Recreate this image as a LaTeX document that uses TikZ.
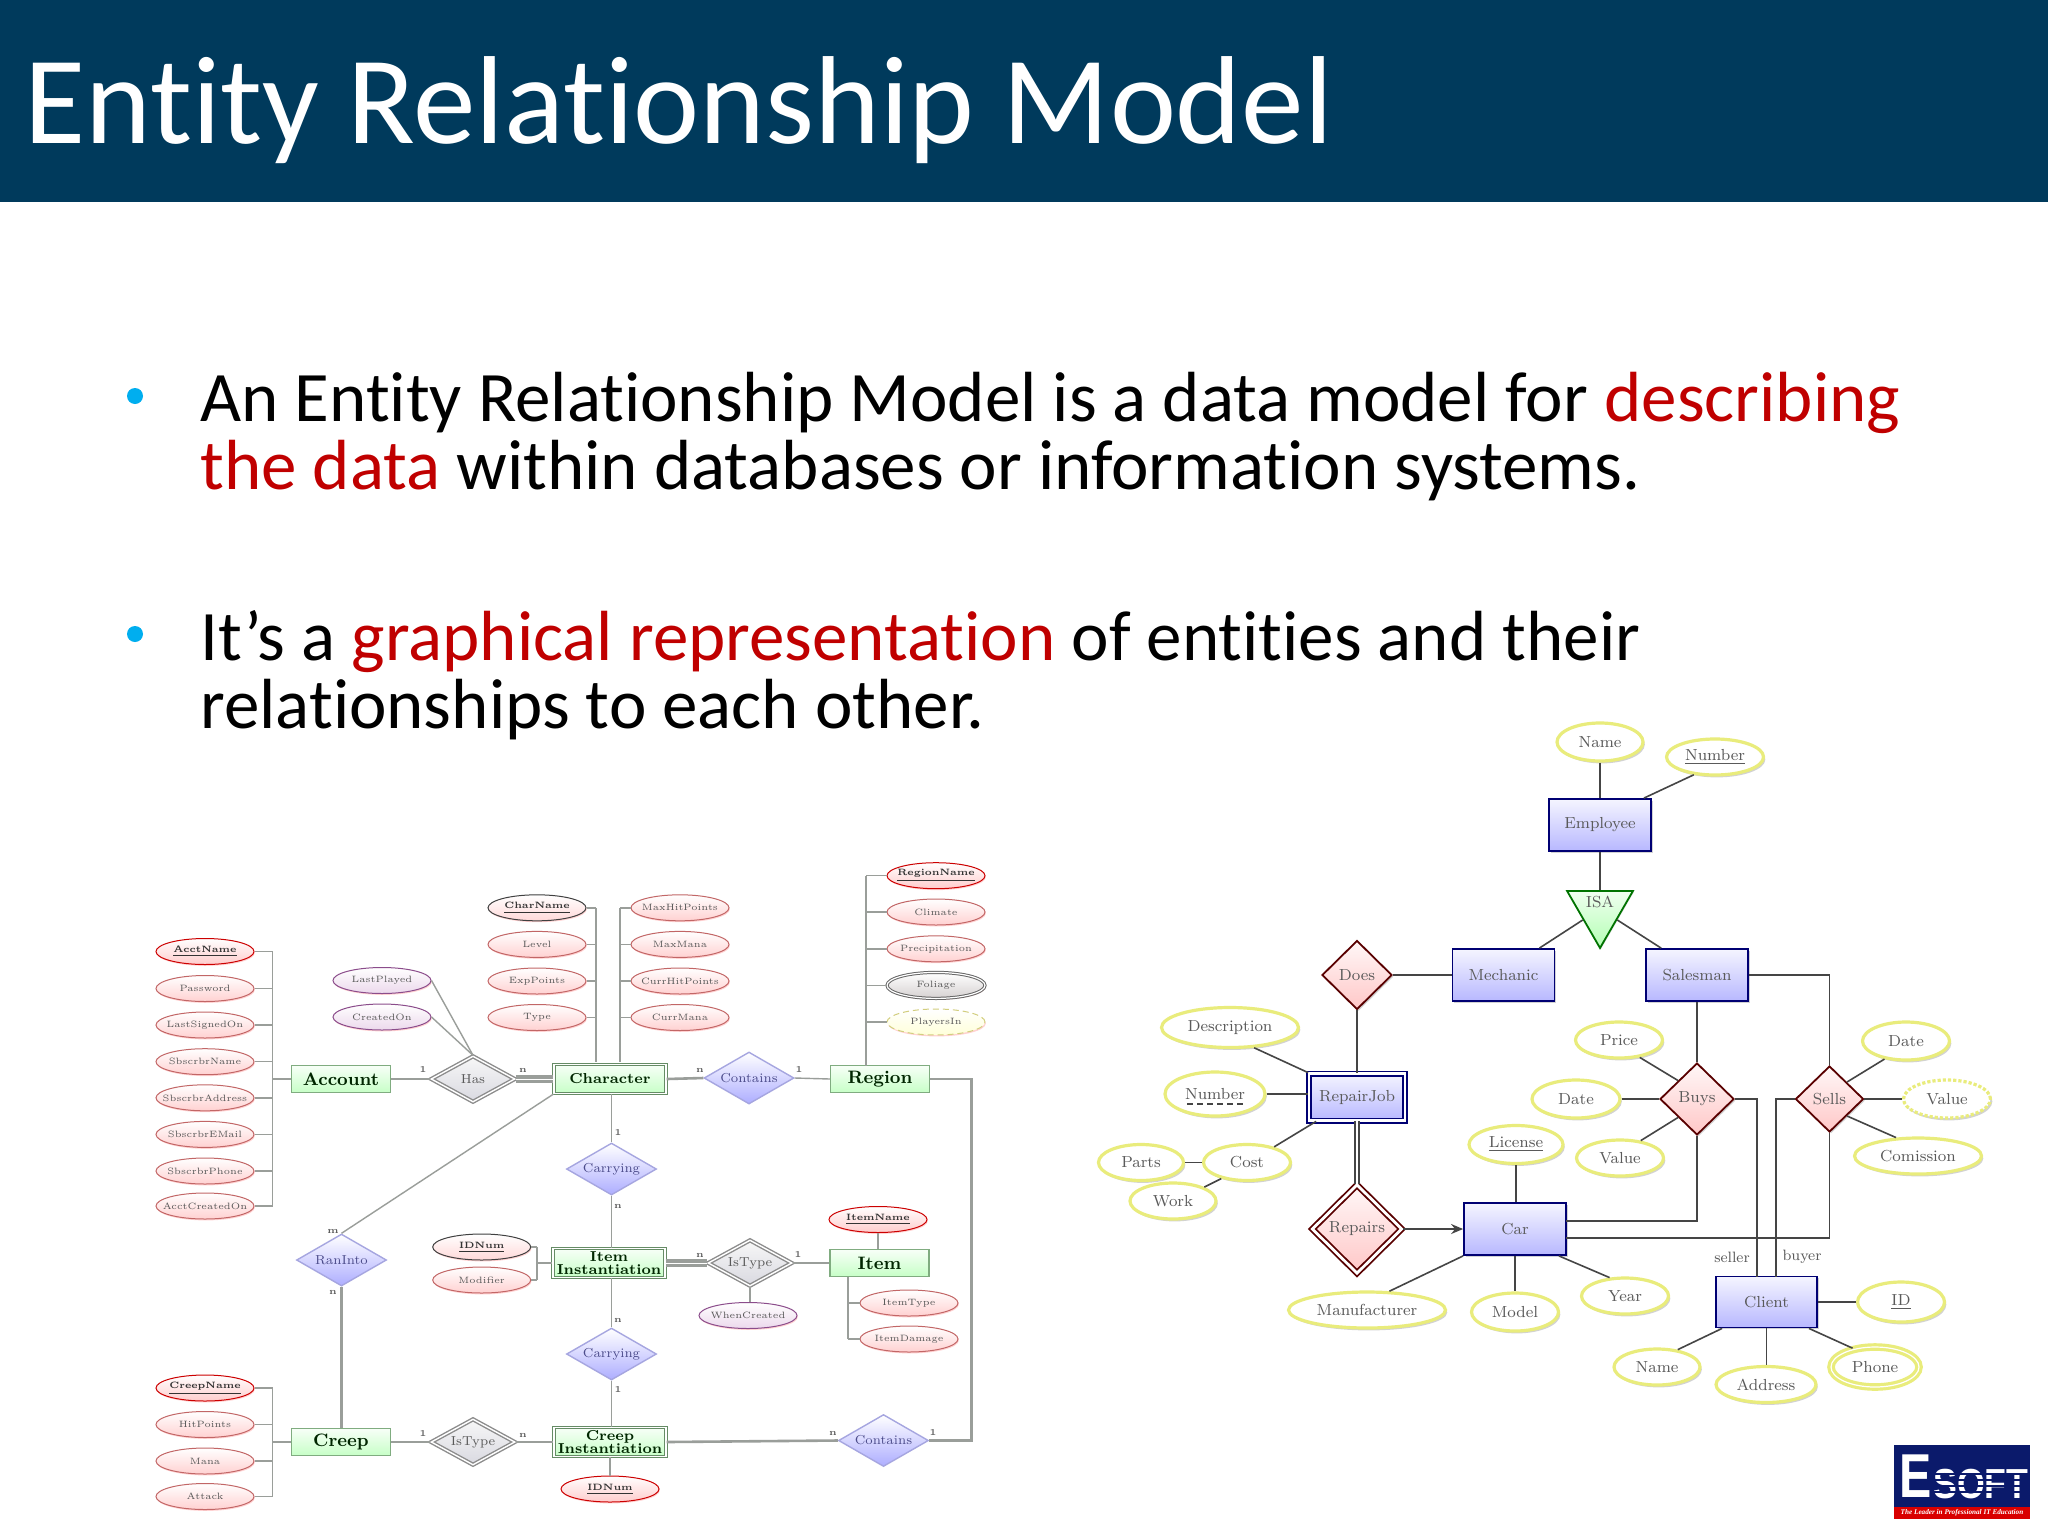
\documentclass[tikz,border=0pt]{standalone}
\usepackage{fontspec}
\usetikzlibrary{shapes.geometric,shadows,arrows.meta,calc}
\newfontfamily\slidefont[Ligatures=CommonOff]{Carlito}
\newfontfamily\logofont{Liberation Sans}
\newfontfamily\logoserif{Liberation Serif}
\newcommand\zt[1]{\makebox[0pt]{#1}}
\definecolor{headbg}{HTML}{003A5C}
\definecolor{hot}{HTML}{C00000}
\definecolor{bul}{HTML}{00AEEF}
\definecolor{lline}{HTML}{9A9E9A}
\definecolor{rline}{HTML}{454545}
\definecolor{rtext}{HTML}{5A5A5A}
\definecolor{yedge}{HTML}{E9EC7C}
\definecolor{lnavy}{HTML}{0B1A6B}
\tikzset{
  sz/.style 2 args={minimum width=#1*0.5pt,minimum height=#2*0.5pt,inner sep=0pt},
  titletext/.style={font=\slidefont\fontsize{62.6}{62.6}\selectfont,text=white,anchor=base west,inner sep=0pt},
  bodytext/.style={font=\slidefont\fontsize{35.5}{34}\selectfont,text=black,anchor=base west,inner sep=0pt},
  bulletdot/.style={circle,fill=bul,minimum size=8pt,inner sep=0pt},
  lconn/.style={draw=lline,line width=0.7pt},
  lthick/.style={draw=lline,line width=1.3pt},
  ldouble/.style={draw=lline,line width=1.6pt,double=white,double distance=0.5pt},
  rconn/.style={draw=rline,line width=0.8pt},
  lattr/.style={ellipse,sz={98}{26},draw=#1,line width=0.5pt,top color=white,
     font=\fontsize{4.6}{5}\selectfont,text=black!65,
     drop shadow={shadow xshift=0.4pt,shadow yshift=-0.7pt,fill=red!45,opacity=.4}},
  lattr/.default={black!45!red!55},
  pattr/.style={lattr=black!40!red!60,bottom color=red!18},
  kattr/.style={lattr=red!80!black,bottom color=red!20,font=\bfseries\fontsize{4.6}{5}\selectfont,text=black!80},
  dattr/.style={lattr=black!75,bottom color=red!15,font=\bfseries\fontsize{4.6}{5}\selectfont,text=black!80},
  vattr/.style={lattr=violet!70!black!70,bottom color=violet!15},
  mattr/.style={lattr=black!60,bottom color=red!10!black!18,double=white,double distance=0.6pt},
  yattr/.style={lattr=olive!40,bottom color=yellow!15,densely dashed},
  lent/.style={rectangle,sz={99}{27},draw=green!35!black!50,line width=0.6pt,top color=green!3,bottom color=green!22,
     font=\bfseries\fontsize{9}{9}\selectfont,text=green!15!black},
  lweak/.style={rectangle,sz={112}{29},draw=green!25!black!60,line width=0.6pt,double=white,double distance=0.7pt,
     top color=green!3,bottom color=green!22,align=center,
     font=\bfseries\fontsize{7.2}{6.6}\selectfont,text=green!15!black},
  lrel/.style={diamond,aspect=1.7,sz={90}{52},draw=black!35!blue!35,line width=0.7pt,top color=white,bottom color=blue!32,
     font=\fontsize{6.5}{7}\selectfont,text=blue!35!black!70},
  lwrel/.style={lrel,sz={84}{46},draw=black!45,double=white,double distance=0.7pt,top color=black!3,bottom color=blue!20!black!15,text=black!65},
  lcard/.style={font=\bfseries\fontsize{4.5}{5}\selectfont,text=black!65,inner sep=0pt},
  rent/.style={rectangle,sz={102}{52},draw=blue!45!black,line width=0.9pt,top color=blue!4,bottom color=blue!28,
     font=\fontsize{8}{9}\selectfont,text=rtext,
     drop shadow={shadow xshift=0.8pt,shadow yshift=-0.8pt,opacity=.35}},
  rrel/.style={diamond,aspect=1,draw=red!35!black,line width=0.9pt,top color=red!3,bottom color=red!22,
     font=\fontsize{8}{9}\selectfont,text=rtext,
     drop shadow={shadow xshift=0.8pt,shadow yshift=-0.8pt,opacity=.35}},
  rattr/.style={ellipse,draw=yedge,line width=1.6pt,fill=white,
     font=\fontsize{8}{9}\selectfont,text=rtext,
     drop shadow={shadow xshift=0.9pt,shadow yshift=-1.2pt,opacity=.35}},
  rnote/.style={font=\fontsize{7.5}{8}\selectfont,text=rtext,inner sep=0pt},
}
\begin{document}
\begin{tikzpicture}[x=0.5pt,y=-0.5pt]
\useasboundingbox (0,0) rectangle (2048,1536);
\fill[white] (0,0) rectangle (2048,1536);
\fill[headbg] (0,0) rectangle (2048,202);
\node[titletext] (title) at (24,143) {Entity Relationship Model};
\node[bulletdot] (b1) at (135,396) {};
\node[bulletdot] (b2) at (135,634) {};
\node[bodytext] (l1) at (200,421) {An Entity Relationship Model is a data model for \textcolor{hot}{describing}};
\node[bodytext] (l2) at (200,489) {\textcolor{hot}{the data} within databases or information systems.};
\node[bodytext] (l3) at (200,660) {It’s a \textcolor{hot}{graphical representation} of entities and their};
\node[bodytext] (l4) at (200,728) {relationships to each other.};

% ---------- left diagram: nodes
\node[kattr] (a1) at (205,951.5) {\zt{\underline{AcctName}}};
\node[pattr] (a2) at (205,988.5) {\zt{Password}};
\node[pattr] (a3) at (205,1025) {\zt{LastSignedOn}};
\node[pattr] (a4) at (205,1061.7) {\zt{SbscrbrName}};
\node[pattr] (a5) at (205,1097.8) {\zt{SbscrbrAddress}};
\node[pattr] (a6) at (205,1134.4) {\zt{SbscrbrEMail}};
\node[pattr] (a7) at (205,1171) {\zt{SbscrbrPhone}};
\node[pattr] (a8) at (205,1206) {\zt{AcctCreatedOn}};
\node[lent] (acct) at (341,1079) {Account};
\node[lwrel] (has) at (473,1079) {\zt{Has}};
\node[vattr] (lp) at (382,980.5) {\zt{LastPlayed}};
\node[vattr] (co) at (382,1017) {\zt{CreatedOn}};
\node[dattr] (c1) at (537,907.8) {\zt{\underline{CharName}}};
\node[pattr] (c2) at (537,944.4) {\zt{Level}};
\node[pattr] (c3) at (537,981) {\zt{ExpPoints}};
\node[pattr] (c4) at (537,1017.5) {\zt{Type}};
\node[pattr] (c5) at (680,907.8) {\zt{MaxHitPoints}};
\node[pattr] (c6) at (680,944.4) {\zt{MaxMana}};
\node[pattr] (c7) at (680,981) {\zt{CurrHitPoints}};
\node[pattr] (c8) at (680,1017.5) {\zt{CurrMana}};
\node[lweak] (char) at (610,1079) {Character};
\node[lrel] (cont) at (749,1078) {\zt{Contains}};
\node[lent] (reg) at (880,1079) {Region};
\node[kattr] (r1) at (936,875.7) {\zt{\underline{RegionName}}};
\node[pattr] (r2) at (936,912) {\zt{Climate}};
\node[pattr] (r3) at (936,948.8) {\zt{Precipitation}};
\node[mattr] (r4) at (936,985.4) {\zt{Foliage}};
\node[yattr] (r5) at (936,1022) {\zt{PlayersIn}};
\node[lrel] (car1) at (611.5,1169) {\zt{Carrying}};
\node[lweak] (iinst) at (609,1263) {Item\\Instantiation};
\node[lwrel] (ist) at (750,1263) {\zt{IsType}};
\node[lent] (item) at (879.5,1263) {Item};
\node[kattr] (i1) at (878,1219.5) {\zt{\underline{ItemName}}};
\node[pattr] (i2) at (909,1303) {\zt{ItemType}};
\node[pattr] (i3) at (909,1339) {\zt{ItemDamage}};
\node[vattr] (wc) at (748,1315.5) {\zt{WhenCreated}};
\node[dattr] (n1) at (481.7,1247) {\zt{\underline{IDNum}}};
\node[pattr] (n2) at (481.7,1280) {\zt{Modifier}};
\node[lrel] (car2) at (611.5,1354) {\zt{Carrying}};
\node[lweak] (cinst) at (610,1442) {Creep\\Instantiation};
\node[kattr] (n3) at (610,1489) {\zt{\underline{IDNum}}};
\node[lrel] (ctn) at (883.5,1440.5) {\zt{Contains}};
\node[lrel] (ran) at (341.5,1260) {\zt{RanInto}};
\node[lent] (creep) at (341,1442) {Creep};
\node[lwrel] (ist2) at (473,1442) {\zt{IsType}};
\node[kattr] (k1) at (205,1388) {\zt{\underline{CreepName}}};
\node[pattr] (k2) at (205,1424.5) {\zt{HitPoints}};
\node[pattr] (k3) at (205,1461) {\zt{Mana}};
\node[pattr] (k4) at (205,1496.5) {\zt{Attack}};

% bracket guides
\coordinate (bA) at (272.7,1079);
\coordinate (bC) at (272.7,1442);
\coordinate (bL) at (596,1062);
\coordinate (bR) at (620,1062);
\coordinate (bG) at (866,1066);
\coordinate (bI) at (848,1277);
\coordinate (bN) at (537,1263);
\coordinate (cwide) at (971.7,1079);

% ---------- left diagram: connectors
\foreach \n in {a1,a2,a3,a4,a5,a6,a7,a8} \draw[lconn] (\n.east) -- (\n.east -| bA);
\draw[lconn] (a1.east -| bA) -- (a8.east -| bA);
\draw[lconn] (bA) -- (acct.west);
\foreach \n in {k1,k2,k3,k4} \draw[lconn] (\n.east) -- (\n.east -| bC);
\draw[lconn] (k1.east -| bC) -- (k4.east -| bC);
\draw[lconn] (bC) -- (creep.west);
\foreach \n in {c1,c2,c3,c4} \draw[lconn] (\n.east) -- (\n.east -| bL);
\draw[lthick] (c1.east -| bL) -- (bL);
\foreach \n in {c5,c6,c7,c8} \draw[lconn] (\n.west) -- (\n.west -| bR);
\draw[lthick] (c5.west -| bR) -- (bR);
\foreach \n in {r1,r2,r3,r4,r5} \draw[lconn] (\n.west) -- (\n.west -| bG);
\draw[lthick] (r1.west -| bG) -- (bG);
\foreach \n in {i2,i3} \draw[lconn] (\n.west) -- (\n.west -| bI);
\draw[lconn] (i3.west -| bI) -- (bI);
\foreach \n in {n1,n2} \draw[lconn] (\n.east) -- (\n.east -| bN);
\draw[lconn] (n1.east -| bN) -- (n2.east -| bN);
\draw[lconn] (bN) -- (iinst.west);
\draw[lconn] (acct.east) -- (has.west);
\draw[ldouble] (has.east) -- (char.west);
\draw[lconn] (lp.east) -- (has.north);
\draw[lconn] (co.east) -- (has.north);
\draw[lthick] (char.east) -- (cont.west);
\draw[lconn] (cont.east) -- (reg.west);
\draw[lconn] (char.south -| car1.north) -- (car1.north);
\draw[lconn] (car1.south) -- (iinst.north -| car1.south);
\draw[lconn] (iinst.south -| car2.north) -- (car2.north);
\draw[lconn] (car2.south) -- (cinst.north -| car2.south);
\draw[ldouble] (iinst.east) -- (ist.west);
\draw[lconn] (ist.east) -- (item.west);
\draw[lconn] (i1.south) -- (item.north -| i1.south);
\draw[lconn] (ist.south) -- (wc.north -| ist.south);
\draw[lconn] (cinst.south) -- (n3.north);
\draw[lconn] (ran.north) -- (char.south west);
\draw[lthick] (ran.south) -- (creep.north -| ran.south);
\draw[lconn] (creep.east) -- (ist2.west);
\draw[lthick] (ist2.east) -- (cinst.west);
\draw[lthick] (cinst.east) -- (ctn.west);
\draw[lthick] (reg.east) -- (cwide) |- (ctn.east);

% cardinalities
\node[lcard] (ca1) at (423,1070) {1};
\node[lcard] (ca2) at (523,1070) {n};
\node[lcard] (ca3) at (700,1070) {n};
\node[lcard] (ca4) at (799,1070) {1};
\node[lcard] (ca5) at (618,1133) {1};
\node[lcard] (ca6) at (618,1206) {n};
\node[lcard] (ca7) at (618,1320) {n};
\node[lcard] (ca8) at (618,1390) {1};
\node[lcard] (ca9) at (700,1255) {n};
\node[lcard] (ca10) at (798,1255) {1};
\node[lcard] (ca11) at (833,1433) {n};
\node[lcard] (ca12) at (933,1432.5) {1};
\node[lcard] (ca13) at (333,1231) {m};
\node[lcard] (ca14) at (333,1292) {n};
\node[lcard] (ca15) at (423,1434) {1};
\node[lcard] (ca16) at (523,1435) {n};

% ---------- right diagram: nodes
\node[rattr,sz={86}{38}] (nameE) at (1600,742) {\zt{Name}};
\node[rattr,sz={97}{36}] (numE) at (1715,757) {\zt{\underline{Number}}};
\node[rent] (emp) at (1600,825) {Employee};
\node[regular polygon,regular polygon sides=3,shape border rotate=180,minimum size=38pt,inner sep=0pt,
      draw=green!45!black,line width=0.9pt,top color=green!6,bottom color=green!30,
      drop shadow={shadow xshift=0.5pt,shadow yshift=-0.5pt,opacity=.25}] (isa) at (1600,910) {};
\node[rnote,font=\fontsize{8}{9}\selectfont] (isaL) at (1600,902) {ISA};
\node[rrel,sz={70}{69}] (does) at (1357,975) {\zt{Does}};
\node[rent] (mech) at (1503.5,975) {Mechanic};
\node[rent] (sales) at (1697,975) {Salesman};
\node[rattr,sz={137}{40}] (desc) at (1230,1027.5) {\zt{Description}};
\node[rent,sz={96}{47},double=white,double distance=1.2pt] (rj) at (1357,1097) {RepairJob};
\node[rattr,sz={100}{44}] (numb) at (1215,1094) {\zt{Number}};
\node[rattr,sz={87}{36}] (cost) at (1247,1162.5) {\zt{Cost}};
\node[rattr,sz={85}{36}] (parts) at (1141,1162.5) {\zt{Parts}};
\node[rattr,sz={86}{36}] (work) at (1173,1201) {\zt{Work}};
\node[rrel,sz={90}{89},double=white,double distance=1.4pt] (rep) at (1357,1229) {\zt{Repairs}};
\node[rent] (car) at (1515,1229) {Car};
\node[rattr,sz={94}{38}] (lic) at (1516,1144.5) {\zt{\underline{License}}};
\node[rattr,sz={157}{36}] (manu) at (1367,1310) {\zt{Manufacturer}};
\node[rattr,sz={87}{38}] (model) at (1515,1312) {\zt{Model}};
\node[rattr,sz={87}{36}] (year) at (1625,1296) {\zt{Year}};
\node[rattr,sz={88}{38}] (date1) at (1576,1099) {\zt{Date}};
\node[rattr,sz={87}{36}] (price) at (1619,1040) {\zt{Price}};
\node[rattr,sz={87}{36}] (val1) at (1620,1158) {\zt{Value}};
\node[rrel,sz={74}{72}] (buys) at (1697,1099) {\zt{Buys}};
\node[rrel,sz={68}{66}] (sells) at (1829.5,1099) {\zt{Sells}};
\node[rattr,sz={87}{38}] (date2) at (1906,1041) {\zt{Date}};
\node[rattr,sz={87}{38},densely dotted] (val2) at (1947,1099) {\zt{Value}};
\node[rattr,sz={127}{36}] (comi) at (1918,1156) {\zt{Comission}};
\node[rent,sz={101}{51}] (cli) at (1766.5,1302) {Client};
\node[rattr,sz={87}{40}] (idE) at (1901,1302) {\zt{\underline{ID}}};
\node[rattr,sz={86}{36}] (name2) at (1657,1367) {\zt{Name}};
\node[rattr,sz={100}{36}] (addr) at (1766,1384.5) {\zt{Address}};
\node[rattr,sz={88}{40},double=white,double distance=0.6pt] (phone) at (1875,1367) {\zt{Phone}};
\node[rnote] (seller) at (1732,1257) {seller};
\node[rnote] (buyer) at (1802,1257) {buyer};

\coordinate (sellerX) at (1757,1277);
\coordinate (buyerX) at (1776,1277);
\coordinate (carB) at (1566,1221);
\coordinate (carS) at (1566,1238);
\coordinate (ndashA) at (1187,1104);
\coordinate (ndashB) at (1244,1104);

% ---------- right diagram: connectors
\draw[rconn,densely dashed] (ndashA) -- (ndashB);
\draw[rconn] (nameE.south) -- (emp.north);
\draw[rconn] (numE.220) -- ([xshift=-4pt]emp.north east);
\draw[rconn] (emp.south) -- (isa.north);
\draw[rconn] (isa.side 3) -- ([xshift=-8pt]mech.north east);
\draw[rconn] (isa.side 1) -- ([xshift=8pt]sales.north west);
\draw[rconn] (does.east) -- (mech.west);
\draw[rconn] (does.south) -- (rj.north);
\draw[rconn] (desc.-40) -- (rj.north west);
\draw[rconn] (numb.east) -- (rj.west |- numb.east);
\draw[rconn] (cost.30) -- ([xshift=4pt]rj.south west);
\draw[rconn] (parts.east) -- (cost.west);
\draw[rconn] (work.24) -- (cost.-148);
\draw[rconn,double=white,double distance=1.2pt] (rj.south) -- (rep.north);
\draw[rconn,-{Stealth[length=6pt,width=5pt]}] (rep.east) -- (car.west);
\draw[rconn] (lic.south) -- (car.north -| lic.south);
\draw[rconn] (manu.40) -- (car.south west);
\draw[rconn] (car.south) -- (model.north);
\draw[rconn] ([xshift=-4pt]car.south east) -- (year.130);
\draw[rconn] (sales.south) -- (buys.north);
\draw[rconn] (sales.east) -| (sells.north);
\draw[rconn] (price.-40) -- (buys.north west);
\draw[rconn] (date1.east) -- (buys.west);
\draw[rconn] (val1.40) -- (buys.south west);
\draw[rconn] (date2.-140) -- (sells.north east);
\draw[rconn] (val2.west) -- (sells.east);
\draw[rconn] (comi.140) -- (sells.south east);
\draw[rconn] (buys.east) -| (sellerX);
\draw[rconn] (sells.west) -| (buyerX);
\draw[rconn] (carB) -| (buys.south);
\draw[rconn] (carS) -| (sells.south);
\draw[rconn] (cli.east) -- (idE.west);
\draw[rconn] (name2.40) -- ([xshift=3.5pt]cli.south west);
\draw[rconn] (cli.south) -- (addr.north -| cli.south);
\draw[rconn] (phone.140) -- ([xshift=-4.5pt]cli.south east);

% ---------- logo
\fill[lnavy] (1894,1445) rectangle (2030,1519);
\fill[red!85!black] (1894,1507) rectangle (2030,1519);
\node[font=\logofont\bfseries\fontsize{31}{31}\selectfont,text=white,anchor=base west,inner sep=0pt,xscale=.78] (logoE) at (1899,1497) {E};
\node[font=\logofont\bfseries\fontsize{21}{21}\selectfont,text=white,anchor=base west,inner sep=0pt,xscale=.85] (logoS) at (1933,1498) {SOFT};
\foreach \y in {1474,1480,1486,1492} \draw[lnavy,line width=.6pt] (1933,\y) -- (2028,\y);
\node[font=\logoserif\bfseries\itshape\fontsize{3.6}{4}\selectfont,text=white,inner sep=0pt] (logoT) at (1962,1513) {The Leader in Professional IT Education};
\end{tikzpicture}
\end{document}
